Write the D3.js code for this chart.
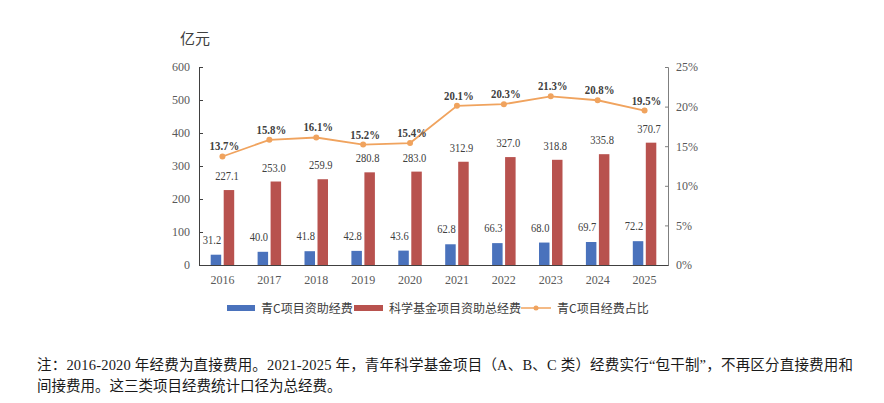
<!DOCTYPE html>
<html>
<head>
<meta charset="utf-8">
<script src="https://cdn.jsdelivr.net/npm/d3@7"></script>
<style>
  body { margin: 0; background: #fff; }
  svg { display: block; }
  .num { font-family: "Liberation Serif", "Times New Roman", serif; }
  .cjk { font-family: "Liberation Serif", "Noto Sans CJK SC", sans-serif; }
</style>
</head>
<body>
<svg id="chart" width="884" height="403"></svg>
<script>
// chart data
var years = ["2016", "2017", "2018", "2019", "2020", "2021", "2022", "2023", "2024", "2025"];
var youthC = [31.2, 40.0, 41.8, 42.8, 43.6, 62.8, 66.3, 68.0, 69.7, 72.2];
var totalFund = [227.1, 253.0, 259.9, 280.8, 283.0, 312.9, 327.0, 318.8, 335.8, 370.7];
var share = [13.7, 15.8, 16.1, 15.2, 15.4, 20.1, 20.3, 21.3, 20.8, 19.5];
var leftTicks = [0, 100, 200, 300, 400, 500, 600];
var rightTicks = [0, 5, 10, 15, 20, 25];
var legendNames = ["青C项目资助经费", "科学基金项目资助总经费", "青C项目经费占比"];
var noteLines = [
  "注：2016-2020 年经费为直接费用。2021-2025 年，青年科学基金项目（A、B、C 类）经费实行“包干制”，不再区分直接费用和",
  "间接费用。这三类项目经费统计口径为总经费。"
];

(function () {
  var blue = "#4a72bc", red = "#b8524e", orange = "#f0a35e", textGray = "#595959";

  var svg = d3.select("#chart");
  svg.append("rect").attr("width", 884).attr("height", 403).attr("fill", "#fff");

  var plotLeft = 199, plotRight = 668, plotTop = 67, plotBottom = 265;

  var x = d3.scaleBand().domain(years).range([plotLeft, plotRight]);
  var y = d3.scaleLinear().domain([0, 600]).range([plotBottom, plotTop]);
  var y2 = d3.scaleLinear().domain([0, 25]).range([plotBottom, plotTop]);

  var barW = 10.5, gap = 2.5;

  // the numbers in the source look narrower than Times, squeeze them a bit
  function condense(sel, k) {
    sel.each(function () {
      var w = this.getComputedTextLength();
      d3.select(this).attr("textLength", w * k).attr("lengthAdjust", "spacingAndGlyphs");
    });
  }

  // unit label
  svg.append("text")
    .attr("x", 180).attr("y", 44)
    .attr("font-size", 15).attr("fill", "#404040")
    .style("font-family", "'Noto Sans CJK SC', sans-serif")
    .text("亿元");

  // axes
  var yAxis = d3.axisLeft(y).tickValues(leftTicks).tickSize(-4).tickPadding(9);
  var gy = svg.append("g").attr("transform", "translate(" + plotLeft + ",0)").call(yAxis);
  gy.select(".domain").attr("stroke", "#404040");
  gy.selectAll(".tick line").attr("stroke", "#404040");
  gy.selectAll(".tick text").attr("class", "num").attr("font-size", 12).attr("fill", textGray);

  var y2Axis = d3.axisRight(y2).tickValues(rightTicks).tickSize(-3).tickPadding(8)
    .tickFormat(function (d) { return d + "%"; });
  var gy2 = svg.append("g").attr("transform", "translate(" + plotRight + ",0)").call(y2Axis);
  gy2.select(".domain").attr("stroke", "#7f7f7f");
  gy2.selectAll(".tick line").attr("stroke", "#7f7f7f");
  gy2.selectAll(".tick text").attr("class", "num").attr("font-size", 12).attr("fill", textGray);

  var xAxis = d3.axisBottom(x).tickSize(0).tickPadding(10);
  var gx = svg.append("g").attr("transform", "translate(0," + plotBottom + ")").call(xAxis);
  gx.select(".domain").attr("stroke", "#404040");
  gx.selectAll(".tick text").attr("class", "num").attr("font-size", 12).attr("fill", textGray);

  // bars
  function cx(d) { return x(d) + x.bandwidth() / 2; }

  svg.append("g").selectAll("rect").data(years).join("rect")
    .attr("x", function (d) { return cx(d) - gap / 2 - barW; })
    .attr("y", function (d, i) { return y(youthC[i]); })
    .attr("width", barW)
    .attr("height", function (d, i) { return plotBottom - y(youthC[i]); })
    .attr("fill", blue);

  svg.append("g").selectAll("rect").data(years).join("rect")
    .attr("x", function (d) { return cx(d) + gap / 2; })
    .attr("y", function (d, i) { return y(totalFund[i]); })
    .attr("width", barW)
    .attr("height", function (d, i) { return plotBottom - y(totalFund[i]); })
    .attr("fill", red);

  // bar labels
  svg.append("g").selectAll("text").data(years).join("text")
    .attr("class", "num")
    .attr("x", function (d) { return cx(d) - gap / 2 - barW / 2 - 4; })
    .attr("y", function (d, i) { return y(youthC[i]) - 11; })
    .attr("text-anchor", "middle").attr("font-size", 12.5).attr("fill", "#404040")
    .text(function (d, i) { return youthC[i].toFixed(1); })
    .call(condense, 0.84);

  svg.append("g").selectAll("text").data(years).join("text")
    .attr("class", "num")
    .attr("x", function (d) { return cx(d) + gap / 2 + barW / 2 - 2; })
    .attr("y", function (d, i) { return y(totalFund[i]) - 10; })
    .attr("text-anchor", "middle").attr("font-size", 12.5).attr("fill", "#404040")
    .text(function (d, i) { return totalFund[i].toFixed(1); })
    .call(condense, 0.84);

  // share line
  var line = d3.line()
    .x(function (d, i) { return cx(years[i]); })
    .y(function (d) { return y2(d); });

  svg.append("path").datum(share)
    .attr("d", line).attr("fill", "none")
    .attr("stroke", orange).attr("stroke-width", 1.8);

  svg.append("g").selectAll("circle").data(share).join("circle")
    .attr("cx", function (d, i) { return cx(years[i]); })
    .attr("cy", function (d) { return y2(d); })
    .attr("r", 3).attr("fill", orange);

  svg.append("g").selectAll("text").data(share).join("text")
    .attr("class", "num")
    .attr("x", function (d, i) { return cx(years[i]) + 2; })
    .attr("y", function (d) { return y2(d) - 6; })
    .attr("text-anchor", "middle").attr("font-size", 13).attr("font-weight", "bold")
    .attr("fill", "#404040")
    .text(function (d) { return d.toFixed(1) + "%"; })
    .call(condense, 0.83);

  // legend
  var lg = svg.append("g").style("font-family", "'Noto Sans CJK SC', sans-serif")
    .attr("font-size", 12).attr("fill", "#404040");
  var legendX = [227, 354, 521];
  lg.append("rect").attr("x", legendX[0]).attr("y", 305).attr("width", 28).attr("height", 6).attr("fill", blue);
  lg.append("rect").attr("x", legendX[1]).attr("y", 305).attr("width", 29).attr("height", 6).attr("fill", red);
  lg.append("line").attr("x1", legendX[2]).attr("x2", legendX[2] + 30)
    .attr("y1", 308).attr("y2", 308).attr("stroke", orange).attr("stroke-width", 1.5);
  lg.append("circle").attr("cx", legendX[2] + 15).attr("cy", 308).attr("r", 2.5).attr("fill", orange);
  lg.selectAll("text").data(legendNames).join("text")
    .attr("x", function (d, i) { return legendX[i] + [34, 35, 36][i]; })
    .attr("y", 312.5)
    .text(function (d) { return d; });

  // footnote
  svg.append("g").selectAll("text").data(noteLines).join("text")
    .attr("class", "cjk")
    .attr("x", 37)
    .attr("y", function (d, i) { return 370 + i * 21; })
    .attr("font-size", 14.5).attr("fill", "#1a1a1a")
    .attr("textLength", function (d, i) { return i === 0 ? 816 : null; })
    .attr("lengthAdjust", "spacing")
    .text(function (d) { return d; });
})();
</script>
</body>
</html>
